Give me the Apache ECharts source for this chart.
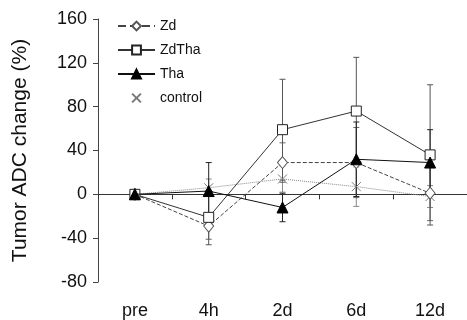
<!DOCTYPE html>
<html><head><meta charset="utf-8">
<script src="https://cdn.jsdelivr.net/npm/echarts@6/dist/echarts.min.js"></script>
<style>html,body{margin:0;padding:0;background:#fff}#c{width:467px;height:320px}</style>
</head><body><div id="c"></div>
<script>
const categories = ['pre','4h','2d','6d','12d'];
const yTicks = [-80,-40,0,40,80,120,160];
const zd = [0,-29,29,29,1];
const zdErr = [0,12,18,32,25];
const zdtha = [0,-21,59,76,36];
const zdthaErr = [0,25,46,49,64];
const tha = [0,3,-12,32,29];
const thaErr = [0,26,13,34,30];
const control = [0,6,14,7,-2];
const controlErr = [0,8,12,18,10];

const FONT = 'Liberation Sans';
const xPath = 'path://M0,0L10,10M10,0L0,10';

function errSeries(name, vals, errs, color) {
  return {
    type: 'custom', name: name + '_err', silent: true, z: 1,
    data: vals.map((v,i)=>[i, v, errs[i]]),
    renderItem: function(params, api) {
      const i = api.value(0), v = api.value(1), e = api.value(2);
      if (!e) return;
      const top = api.coord([i, v + e]);
      const bot = api.coord([i, v - e]);
      const hw = 3;
      const st = {stroke: color, lineWidth: 1};
      return {type:'group', children:[
        {type:'line', shape:{x1:top[0],y1:top[1],x2:bot[0],y2:bot[1]}, style:st},
        {type:'line', shape:{x1:top[0]-hw,y1:top[1],x2:top[0]+hw,y2:top[1]}, style:st},
        {type:'line', shape:{x1:bot[0]-hw,y1:bot[1],x2:bot[0]+hw,y2:bot[1]}, style:st}
      ]};
    }
  };
}

const chart = echarts.init(document.getElementById('c'), null, {renderer:'canvas'});
chart.setOption({
  animation: false,
  backgroundColor: '#fff',
  textStyle: {fontFamily: FONT},
  grid: {left: 98, top: 19, width: 375, height: 264, containLabel: false},
  legend: {
    orient: 'vertical', left: 112, top: 14, itemWidth: 37, itemHeight: 11, itemGap: 10,
    textStyle: {fontFamily: FONT, fontSize: 14, color: '#111'},
    data: [
      {name:'Zd'}, {name:'ZdTha'}, {name:'Tha'},
      {name:'control', lineStyle:{opacity:0}}
    ]
  },
  xAxis: [
    {type:'category', data: categories, boundaryGap: true,
     axisLine:{onZero:true, lineStyle:{color:'#333', width:1}},
     axisTick:{show:true, length:5, lineStyle:{color:'#333'}},
     axisLabel:{show:false}, splitLine:{show:false}},
    {type:'category', data: categories, boundaryGap: true, position:'bottom',
     axisLine:{show:false, onZero:false}, axisTick:{show:false},
     axisLabel:{show:true, margin:20, fontSize:18, color:'#111', fontFamily: FONT},
     splitLine:{show:false}}
  ],
  yAxis: {
    type:'value', min:-80, max:160, interval:40,
    axisLine:{show:true, lineStyle:{color:'#444'}},
    axisTick:{show:true, inside:false, length:5, lineStyle:{color:'#444'}},
    axisLabel:{fontSize:18, color:'#111', margin:11, fontFamily: FONT,
      formatter: v => yTicks.includes(v) ? String(v) : ''},
    splitLine:{show:false},
    name:'Tumor ADC change (%)', nameLocation:'middle', nameGap:67,
    nameTextStyle:{fontSize:21, color:'#111', fontFamily: FONT}
  },
  series: [
    errSeries('control', control, controlErr, '#888'),
    errSeries('Zd', zd, zdErr, '#666'),
    errSeries('ZdTha', zdtha, zdthaErr, '#555'),
    errSeries('Tha', tha, thaErr, '#222'),
    {name:'control', type:'line', data: control, z:2,
     symbol: xPath, symbolSize: 9,
     lineStyle:{type:'dotted', color:'#888', width:1},
     itemStyle:{color:'transparent', borderColor:'#777', borderWidth:1}},
    {name:'Zd', type:'line', data: zd, z:3,
     symbol:'diamond', symbolSize:[10,12],
     lineStyle:{type:'dashed', color:'#444', width:1},
     itemStyle:{color:'#fff', borderColor:'#555', borderWidth:1}},
    {name:'ZdTha', type:'line', data: zdtha, z:4,
     symbol:'rect', symbolSize:10,
     lineStyle:{type:'solid', color:'#333', width:1},
     itemStyle:{color:'#fff', borderColor:'#222', borderWidth:1}},
    {name:'Tha', type:'line', data: tha, z:5,
     symbol:'triangle', symbolSize:11,
     lineStyle:{type:'solid', color:'#111', width:1},
     itemStyle:{color:'#000', borderColor:'#000', borderWidth:1}}
  ]
});
</script></body></html>
